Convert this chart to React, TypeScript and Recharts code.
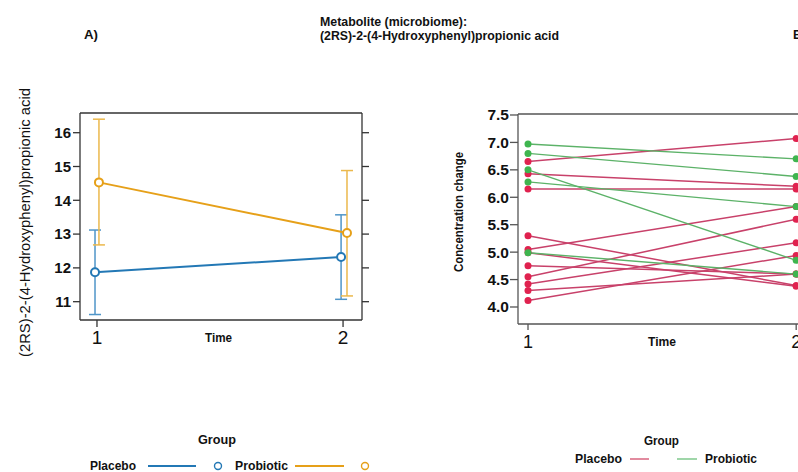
import { ErrorBar, Line, LineChart, XAxis, YAxis } from "recharts";

const FONT = "'Liberation Sans', Arial, sans-serif";

// panel A: means with 95% CI per group
const timePoints = [1, 2];
const placeboMean = [11.87, 12.32];
const placeboCi = [
  [1.25, 1.25],
  [1.25, 1.25],
];
const probioticMean = [14.53, 13.03];
const probioticCi = [
  [1.85, 1.87],
  [1.86, 1.85],
];
const placeboDodge = [-0.008, -0.008];
const probioticDodge = [0.008, 0.016];
const leftTicks = [11, 12, 13, 14, 15, 16];

// panel B: individual subjects, time 1 -> time 2
const placeboT1 = [6.65, 6.43, 6.15, 5.3, 5.05, 4.99, 4.75, 4.55, 4.42, 4.3, 4.12];
const placeboT2 = [7.07, 6.2, 6.15, 4.39, 5.83, 4.38, 4.6, 5.6, 5.17, 4.6, 4.94];
const probioticT1 = [6.97, 6.8, 6.5, 6.28, 4.99];
const probioticT2 = [6.7, 6.38, 4.85, 5.83, 4.6];
const rightTicks = [4.0, 4.5, 5.0, 5.5, 6.0, 6.5, 7.0, 7.5];

const BLUE = "#2378b5";
const ORANGE = "#e6a019";
const RED = "#e0224f";
const GREEN = "#3fb54f";

const groupSeries = (mean: number[], ci: number[][], dodge: number[]) =>
  timePoints.map((t, i) => ({ x: t + dodge[i], y: mean[i], ci: ci[i] }));

const subjects = (t1: number[], t2: number[]) =>
  t1.map((v, i) => [
    { x: timePoints[0], y: v },
    { x: timePoints[1], y: t2[i] },
  ]);

const placeboSubjects = subjects(placeboT1, placeboT2);
const probioticSubjects = subjects(probioticT1, probioticT2);

type TProps = {
  x: number;
  y: number;
  children: string;
  size?: number;
  bold?: boolean;
  len?: number;
  anchor?: "start" | "middle" | "end";
  rotate?: boolean;
};

function T({ x, y, children, size = 12, bold = false, len, anchor = "start", rotate = false }: TProps) {
  return (
    <text
      x={x}
      y={y}
      fontSize={size}
      fontWeight={bold ? 700 : 400}
      fontFamily={FONT}
      textAnchor={anchor}
      dominantBaseline="central"
      textLength={len}
      lengthAdjust={len ? "spacingAndGlyphs" : undefined}
      transform={rotate ? `rotate(-90 ${x} ${y})` : undefined}
      fill="#111"
    >
      {children}
    </text>
  );
}

function PanelA() {
  const axisLine = { stroke: "#333", strokeWidth: 1.3 };
  return (
    <LineChart width={400} height={380} margin={{ top: 103, right: 28, bottom: 30, left: 40 }}>
      <XAxis
        dataKey="x"
        type="number"
        domain={[0.931, 2.077]}
        ticks={timePoints}
        allowDataOverflow
        height={30}
        tickSize={7}
        tickMargin={4}
        axisLine={axisLine}
        tickLine={axisLine}
        tick={{ fontSize: 19, fill: "#111", fontFamily: FONT }}
      />
      <XAxis
        xAxisId="top"
        orientation="top"
        type="number"
        domain={[0.931, 2.077]}
        ticks={timePoints}
        allowDataOverflow
        height={10}
        tickSize={6}
        axisLine={axisLine}
        tickLine={axisLine}
        tickFormatter={() => ""}
      />
      <YAxis
        type="number"
        domain={[10.458, 16.583]}
        ticks={leftTicks}
        allowDataOverflow
        width={40}
        tickSize={7}
        tickMargin={2}
        axisLine={axisLine}
        tickLine={axisLine}
        tick={{ fontSize: 15, fontWeight: 700, fill: "#111", fontFamily: FONT }}
      />
      <YAxis
        yAxisId="r"
        orientation="right"
        type="number"
        domain={[10.458, 16.583]}
        ticks={leftTicks}
        allowDataOverflow
        width={10}
        tickSize={7}
        axisLine={axisLine}
        tickLine={axisLine}
        tickFormatter={() => ""}
      />
      <Line
        data={groupSeries(placeboMean, placeboCi, placeboDodge)}
        dataKey="y"
        stroke={BLUE}
        strokeWidth={2}
        dot={{ r: 4, fill: "#fff", stroke: BLUE, strokeWidth: 2 }}
        isAnimationActive={false}
      >
        <ErrorBar dataKey="ci" direction="y" width={6} stroke="#4f95c8" strokeWidth={1.5} />
      </Line>
      <Line
        data={groupSeries(probioticMean, probioticCi, probioticDodge)}
        dataKey="y"
        stroke={ORANGE}
        strokeWidth={2}
        dot={{ r: 4, fill: "#fff", stroke: ORANGE, strokeWidth: 2 }}
        isAnimationActive={false}
      >
        <ErrorBar dataKey="ci" direction="y" width={6} stroke="#ebb84c" strokeWidth={1.5} />
      </Line>
    </LineChart>
  );
}

function PanelB() {
  const axisLine = { stroke: "#555", strokeWidth: 1.3 };
  return (
    <LineChart width={420} height={380} margin={{ top: 113, right: 17, bottom: 26, left: 48 }}>
      <XAxis
        dataKey="x"
        type="number"
        domain={[0.9627, 2.1]}
        ticks={timePoints}
        allowDataOverflow
        height={30}
        tickSize={6}
        tickMargin={5}
        axisLine={axisLine}
        tickLine={axisLine}
        tick={{ fontSize: 18, fill: "#111", fontFamily: FONT }}
      />
      <XAxis
        xAxisId="top"
        orientation="top"
        type="number"
        domain={[0.9627, 2.1]}
        height={1}
        tick={false}
        tickLine={false}
        axisLine={axisLine}
      />
      <YAxis
        type="number"
        domain={[3.69, 7.518]}
        ticks={rightTicks}
        allowDataOverflow
        width={50}
        tickSize={8}
        tickMargin={1}
        axisLine={axisLine}
        tickLine={axisLine}
        tickFormatter={(v: number) => v.toFixed(1)}
        tick={{ fontSize: 15.5, fontWeight: 700, fill: "#111", fontFamily: FONT }}
      />
      {placeboSubjects.map((d, i) => (
        <Line
          key={`p${i}`}
          data={d}
          dataKey="y"
          stroke="#c8416a"
          strokeWidth={1.5}
          dot={{ r: 3.5, fill: RED, stroke: "none" }}
          isAnimationActive={false}
        />
      ))}
      {probioticSubjects.map((d, i) => (
        <Line
          key={`g${i}`}
          data={d}
          dataKey="y"
          stroke="#5cb268"
          strokeWidth={1.4}
          dot={{ r: 3.5, fill: GREEN, stroke: "none" }}
          isAnimationActive={false}
        />
      ))}
    </LineChart>
  );
}

export default function App() {
  return (
    <div
      style={{
        position: "fixed",
        left: 0,
        top: 0,
        width: 798,
        height: 472,
        overflow: "hidden",
        background: "#fff",
        fontFamily: FONT,
      }}
    >
      <div style={{ position: "absolute", left: 0, top: 0 }}>
        <PanelA />
      </div>
      <div style={{ position: "absolute", left: 420, top: 0 }}>
        <PanelB />
      </div>
      <svg
        width={798}
        height={472}
        style={{ position: "absolute", left: 0, top: 0, pointerEvents: "none" }}
      >
        <T x={84} y={35} size={12.5} bold len={14}>A)</T>
        <T x={793} y={35} size={12.5} bold>B)</T>
        <T x={320} y={22} size={12.5} bold len={147}>Metabolite (microbiome):</T>
        <T x={320} y={35.5} size={12.5} bold len={239}>(2RS)-2-(4-Hydroxyphenyl)propionic acid</T>

        <T x={25} y={222.5} size={14} anchor="middle" rotate len={269}>
          (2RS)-2-(4-Hydroxyphenyl)propionic acid
        </T>
        <T x={205} y={337.5} size={12.5} bold len={27}>Time</T>
        <T x={459} y={212} size={12.5} bold anchor="middle" rotate len={120}>
          Concentration change
        </T>
        <T x={648} y={342} size={12.5} bold len={28}>Time</T>

        <T x={198} y={440} size={12.5} bold len={38}>Group</T>
        <T x={90} y={466} size={12.5} bold len={46}>Placebo</T>
        <line x1={148} x2={196} y1={466} y2={466} stroke={BLUE} strokeWidth={2.2} />
        <circle cx={218} cy={466} r={3.5} fill="none" stroke={BLUE} strokeWidth={1.4} />
        <T x={235} y={466} size={12.5} bold len={53}>Probiotic</T>
        <line x1={295} x2={344} y1={466} y2={466} stroke={ORANGE} strokeWidth={2.2} />
        <circle cx={365} cy={466} r={3.5} fill="none" stroke={ORANGE} strokeWidth={1.4} />

        <T x={644} y={441} size={12.5} bold len={35}>Group</T>
        <T x={575} y={459} size={12.5} bold len={47}>Placebo</T>
        <line x1={630} x2={649} y1={459} y2={459} stroke="#d9657f" strokeWidth={1.5} />
        <line x1={677} x2={697} y1={459} y2={459} stroke="#7fc88c" strokeWidth={1.5} />
        <T x={705} y={459} size={12.5} bold len={52}>Probiotic</T>
      </svg>
    </div>
  );
}
